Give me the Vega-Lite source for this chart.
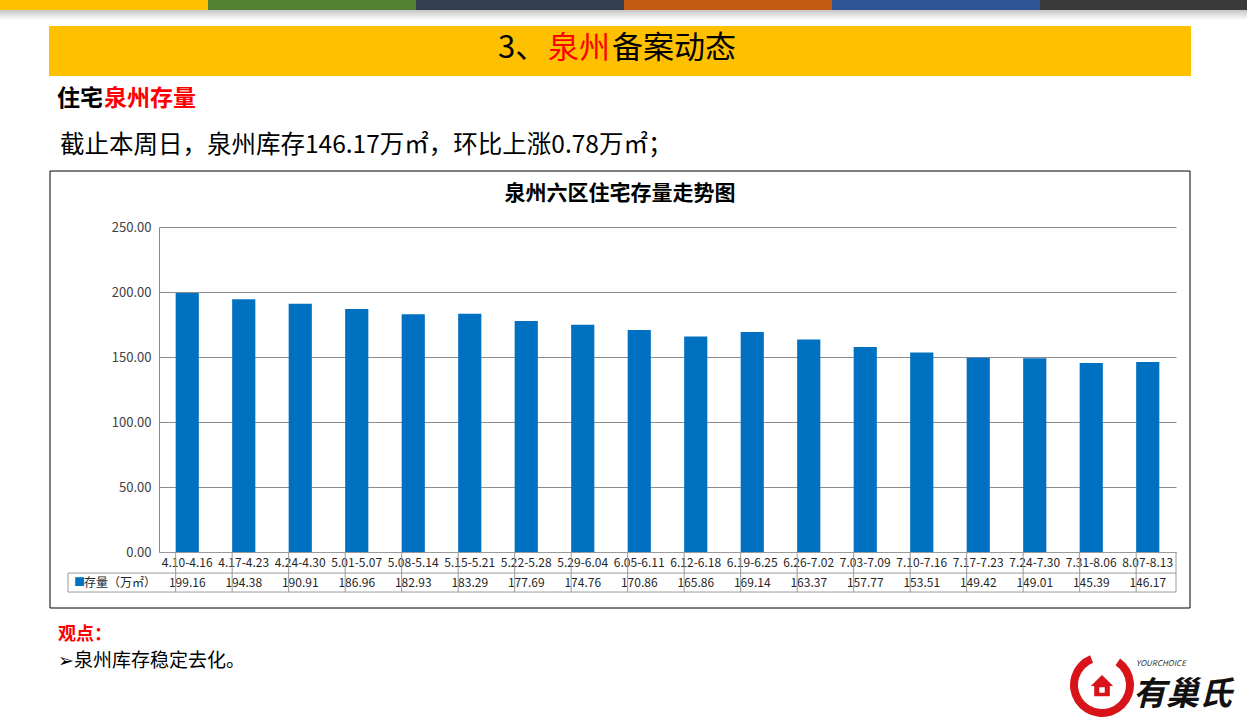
{
  "$schema": "https://vega.github.io/schema/vega-lite/v6.json",
  "width": 1017,
  "height": 325,
  "autosize": {"type": "none"},
  "padding": {"left": 159, "top": 227, "right": 71, "bottom": 166},
  "background": "white",
  "config": {
    "font": "Noto Sans CJK SC",
    "view": {"stroke": null},
    "axisY": {
      "title": null, "grid": true, "gridColor": "#8c8c8c", "domainColor": "#8c8c8c",
      "ticks": false, "labelPadding": 8, "labelFontSize": 13, "labelColor": "#404040"
    }
  },
  "datasets": {
    "one": [{}],
    "stock": [
      {"period": "4.10-4.16", "value": 199.16},
      {"period": "4.17-4.23", "value": 194.38},
      {"period": "4.24-4.30", "value": 190.91},
      {"period": "5.01-5.07", "value": 186.96},
      {"period": "5.08-5.14", "value": 182.93},
      {"period": "5.15-5.21", "value": 183.29},
      {"period": "5.22-5.28", "value": 177.69},
      {"period": "5.29-6.04", "value": 174.76},
      {"period": "6.05-6.11", "value": 170.86},
      {"period": "6.12-6.18", "value": 165.86},
      {"period": "6.19-6.25", "value": 169.14},
      {"period": "6.26-7.02", "value": 163.37},
      {"period": "7.03-7.09", "value": 157.77},
      {"period": "7.10-7.16", "value": 153.51},
      {"period": "7.17-7.23", "value": 149.42},
      {"period": "7.24-7.30", "value": 149.01},
      {"period": "7.31-8.06", "value": 145.39},
      {"period": "8.07-8.13", "value": 146.17}
    ]
  },
  "layer": [
    {"data": {"name": "one"}, "mark": {"type": "rect", "color": "#FFC000"}, "encoding": {"x": {"value": -159}, "x2": {"value": 49}, "y": {"value": -227}, "y2": {"value": -217}}},
    {"data": {"name": "one"}, "mark": {"type": "rect", "color": "#548235"}, "encoding": {"x": {"value": 49}, "x2": {"value": 257}, "y": {"value": -227}, "y2": {"value": -217}}},
    {"data": {"name": "one"}, "mark": {"type": "rect", "color": "#333F50"}, "encoding": {"x": {"value": 257}, "x2": {"value": 465}, "y": {"value": -227}, "y2": {"value": -217}}},
    {"data": {"name": "one"}, "mark": {"type": "rect", "color": "#C55A11"}, "encoding": {"x": {"value": 465}, "x2": {"value": 673}, "y": {"value": -227}, "y2": {"value": -217}}},
    {"data": {"name": "one"}, "mark": {"type": "rect", "color": "#2F5597"}, "encoding": {"x": {"value": 673}, "x2": {"value": 881}, "y": {"value": -227}, "y2": {"value": -217}}},
    {"data": {"name": "one"}, "mark": {"type": "rect", "color": "#3A3A3A"}, "encoding": {"x": {"value": 881}, "x2": {"value": 1088}, "y": {"value": -227}, "y2": {"value": -217}}},
    {"data": {"name": "one"}, "mark": {"type": "rect", "fill": {"gradient": "linear", "x1": 0, "y1": 0, "x2": 0, "y2": 1, "stops": [{"offset": 0, "color": "#c4c4c4"}, {"offset": 1, "color": "#ffffff"}]}}, "encoding": {"x": {"value": -159}, "x2": {"value": 1088}, "y": {"value": -217}, "y2": {"value": -207}}},
    {"data": {"name": "one"}, "mark": {"type": "rect", "color": "#FFC000"}, "encoding": {"x": {"value": -110}, "x2": {"value": 1032}, "y": {"value": -201}, "y2": {"value": -151}}},
    {"data": {"name": "one"}, "mark": {"type": "text", "text": "3、", "fontSize": 31, "align": "left", "baseline": "middle", "color": "#000000"}, "encoding": {"x": {"value": 339}, "y": {"value": -178}}},
    {"data": {"name": "one"}, "mark": {"type": "text", "text": "泉州", "fontSize": 31, "align": "left", "baseline": "middle", "color": "#FF0000"}, "encoding": {"x": {"value": 389}, "y": {"value": -178}}},
    {"data": {"name": "one"}, "mark": {"type": "text", "text": "备案动态", "fontSize": 31, "align": "left", "baseline": "middle", "color": "#000000"}, "encoding": {"x": {"value": 453}, "y": {"value": -178}}},
    {"data": {"name": "one"}, "mark": {"type": "text", "text": "住宅", "fontSize": 23, "fontWeight": "bold", "align": "left", "baseline": "middle", "color": "#000000"}, "encoding": {"x": {"value": -102}, "y": {"value": -128}}},
    {"data": {"name": "one"}, "mark": {"type": "text", "text": "泉州存量", "fontSize": 23, "fontWeight": "bold", "align": "left", "baseline": "middle", "color": "#FF0000"}, "encoding": {"x": {"value": -55}, "y": {"value": -128}}},
    {"data": {"name": "one"}, "mark": {"type": "text", "text": "截止本周日，泉州库存146.17万㎡，环比上涨0.78万㎡；", "fontSize": 24.5, "align": "left", "baseline": "middle", "color": "#000000"}, "encoding": {"x": {"value": -99}, "y": {"value": -81}}},
    {"data": {"name": "one"}, "mark": {"type": "rect", "filled": false, "stroke": "#000000", "strokeWidth": 1}, "encoding": {"x": {"value": -109}, "x2": {"value": 1031}, "y": {"value": -56}, "y2": {"value": 381}}},
    {"data": {"name": "one"}, "mark": {"type": "text", "text": "泉州六区住宅存量走势图", "fontSize": 21, "fontWeight": "bold", "align": "center", "baseline": "middle", "color": "#000000"}, "encoding": {"x": {"value": 461}, "y": {"value": -33}}},
    {
      "data": {"name": "stock"},
      "mark": {"type": "bar", "color": "#0070C0"},
      "encoding": {
        "x": {"field": "period", "type": "nominal", "sort": null, "scale": {"paddingInner": 0.59, "paddingOuter": 0.295},
          "axis": {"title": null, "labelAngle": 0, "labelFontSize": 12, "labelColor": "#262626", "ticks": false, "domainColor": "#9a9a9a", "labelPadding": 10, "labelBaseline": "middle", "labelOverlap": false, "grid": false}},
        "y": {"field": "value", "type": "quantitative", "scale": {"domain": [0, 250], "nice": false}, "axis": {"title": null, "values": [0, 50, 100, 150, 200, 250], "format": ".2f"}}
      }
    },
    {
      "data": {"name": "stock"},
      "mark": {"type": "text", "fontSize": 12, "baseline": "middle", "align": "center", "color": "#262626"},
      "encoding": {
        "x": {"field": "period", "type": "nominal", "sort": null},
        "y": {"datum": -23.5, "type": "quantitative"},
        "text": {"field": "value", "type": "quantitative", "format": ".2f"}
      }
    },
    {
      "data": {"name": "stock"},
      "mark": {"type": "rule", "color": "#9a9a9a"},
      "encoding": {
        "x": {"field": "period", "type": "nominal", "sort": null, "bandPosition": 0},
        "y": {"datum": 0, "type": "quantitative"},
        "y2": {"datum": -30.8}
      }
    },
    {"data": {"name": "one"}, "mark": {"type": "rule", "color": "#9a9a9a"}, "encoding": {"x": {"value": 1017}, "y": {"datum": 0, "type": "quantitative"}, "y2": {"datum": -30.8}}},
    {"data": {"name": "one"}, "mark": {"type": "rule", "color": "#9a9a9a"}, "encoding": {"x": {"value": -91}, "x2": {"value": 1017}, "y": {"datum": -16.2, "type": "quantitative"}}},
    {"data": {"name": "one"}, "mark": {"type": "rule", "color": "#9a9a9a"}, "encoding": {"x": {"value": -91}, "x2": {"value": 1017}, "y": {"datum": -30.8, "type": "quantitative"}}},
    {"data": {"name": "one"}, "mark": {"type": "rule", "color": "#9a9a9a"}, "encoding": {"x": {"value": -91}, "y": {"datum": -16.2, "type": "quantitative"}, "y2": {"datum": -30.8}}},
    {"data": {"name": "one"}, "mark": {"type": "text", "text": "■", "fontSize": 11, "align": "left", "baseline": "middle", "color": "#0070C0"}, "encoding": {"x": {"value": -85}, "y": {"datum": -23.5, "type": "quantitative"}}},
    {"data": {"name": "one"}, "mark": {"type": "text", "text": "存量（万㎡）", "fontSize": 12, "align": "left", "baseline": "middle", "color": "#262626"}, "encoding": {"x": {"value": -75}, "y": {"datum": -23.5, "type": "quantitative"}}},
    {"data": {"name": "one"}, "mark": {"type": "text", "text": "观点：", "fontSize": 18, "fontWeight": "bold", "align": "left", "baseline": "middle", "color": "#FF0000"}, "encoding": {"x": {"value": -101}, "y": {"value": 408}}},
    {"data": {"name": "one"}, "mark": {"type": "text", "text": "➢泉州库存稳定去化。", "fontSize": 19, "align": "left", "baseline": "middle", "color": "#000000"}, "encoding": {"x": {"value": -101}, "y": {"value": 434}}},
    {"data": {"name": "one"}, "mark": {"type": "arc", "innerRadius": 24, "outerRadius": 32, "theta": 0.6, "theta2": 5.9, "color": "#D7141A"}, "encoding": {"x": {"value": 943}, "y": {"value": 458}}},
    {"data": {"name": "one"}, "mark": {"type": "point", "shape": "M-1,0.1 L0,-0.9 L1,0.1 L0.7,0.1 L0.7,1 L-0.7,1 L-0.7,0.1 Z", "filled": true, "size": 500, "color": "#D7141A", "opacity": 1}, "encoding": {"x": {"value": 943}, "y": {"value": 458}}},
    {"data": {"name": "one"}, "mark": {"type": "square", "size": 30, "color": "#ffffff", "opacity": 1}, "encoding": {"x": {"value": 943}, "y": {"value": 463}}},
    {"data": {"name": "one"}, "mark": {"type": "text", "text": "YOURCHOICE", "fontSize": 8, "fontStyle": "italic", "align": "left", "baseline": "middle", "color": "#333333"}, "encoding": {"x": {"value": 977}, "y": {"value": 437}}},
    {"data": {"name": "one"}, "mark": {"type": "text", "text": "有巢氏", "fontSize": 33, "fontStyle": "italic", "fontWeight": "bold", "align": "left", "baseline": "middle", "color": "#111111"}, "encoding": {"x": {"value": 974}, "y": {"value": 468}}}
  ]
}
